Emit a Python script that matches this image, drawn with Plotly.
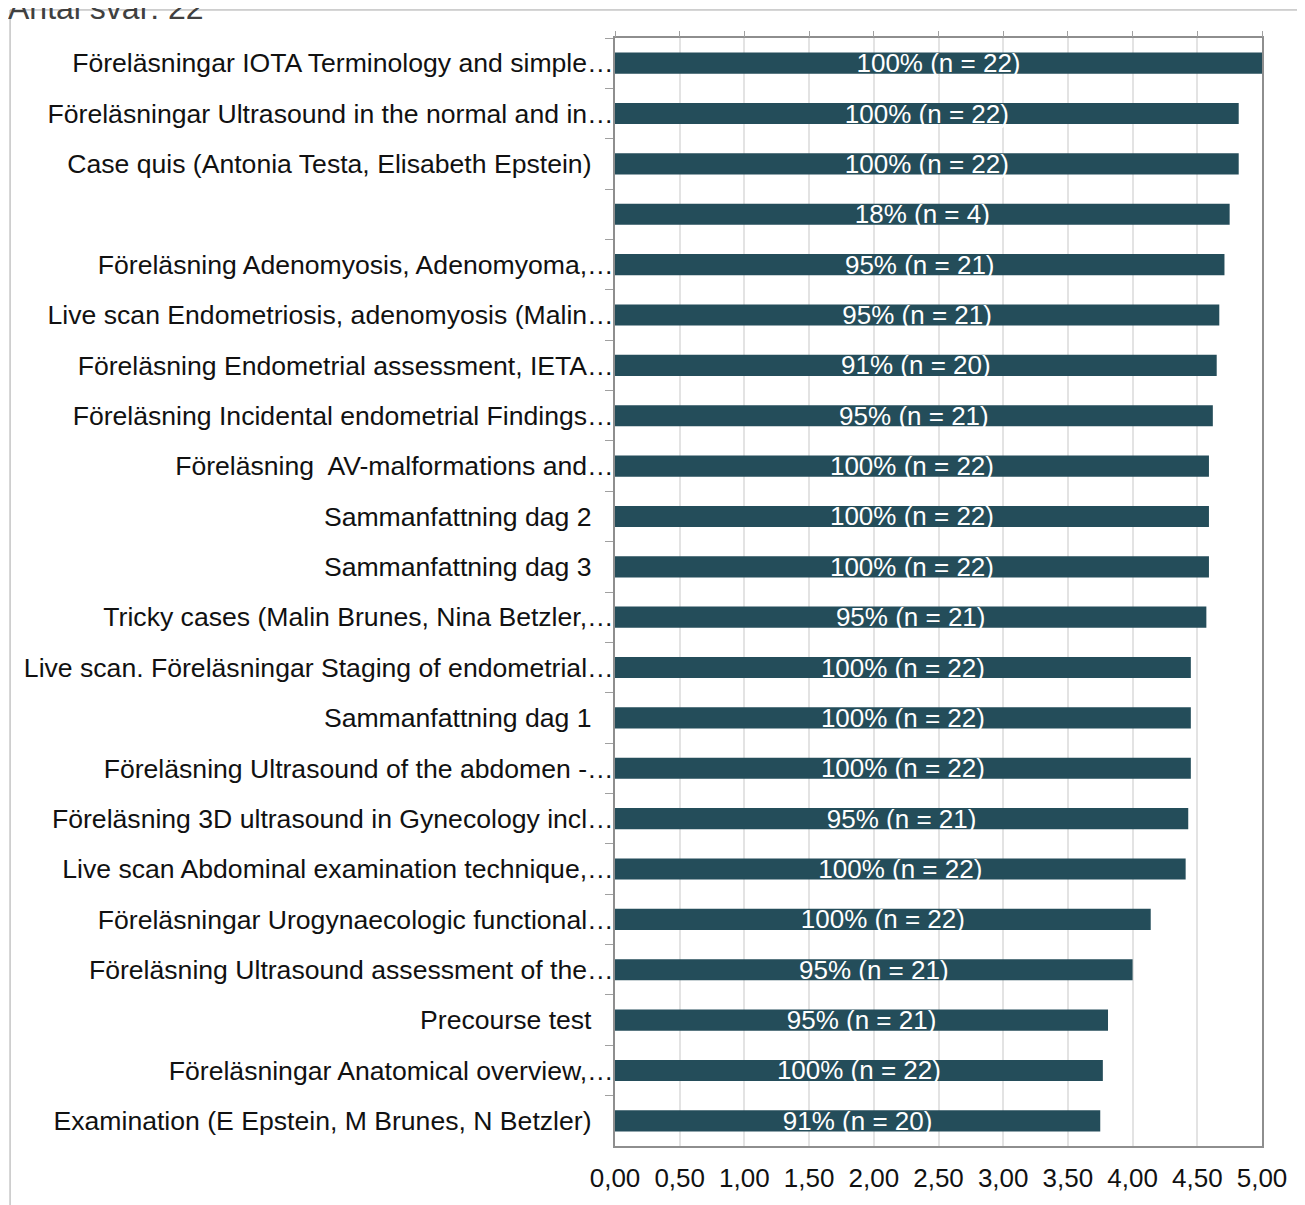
import plotly.graph_objects as go

# -------------------------------------------------
# Data
# -------------------------------------------------
PAD = "\u00a0\u00a0\u00a0"  # labels that were not cut sit a little off the axis

labels = [
    "Föreläsningar IOTA Terminology and simple…",
    "Föreläsningar Ultrasound in the normal and in…",
    "Case quis (Antonia Testa, Elisabeth Epstein)" + PAD,
    " ",
    "Föreläsning Adenomyosis, Adenomyoma,…",
    "Live scan Endometriosis, adenomyosis (Malin…",
    "Föreläsning Endometrial assessment, IETA…",
    "Föreläsning Incidental endometrial Findings…",
    "Föreläsning  AV-malformations and…",
    "Sammanfattning dag 2" + PAD,
    "Sammanfattning dag 3" + PAD,
    "Tricky cases (Malin Brunes, Nina Betzler,…",
    "Live scan. Föreläsningar Staging of endometrial…",
    "Sammanfattning dag 1" + PAD,
    "Föreläsning Ultrasound of the abdomen -…",
    "Föreläsning 3D ultrasound in Gynecology incl…",
    "Live scan Abdominal examination technique,…",
    "Föreläsningar Urogynaecologic functional…",
    "Föreläsning Ultrasound assessment of the…",
    "Precourse test" + PAD,
    "Föreläsningar Anatomical overview,…",
    "Examination (E Epstein, M Brunes, N Betzler)" + PAD,
]
means = [5.00, 4.82, 4.82, 4.75, 4.71, 4.67, 4.65, 4.62, 4.59, 4.59, 4.59,
         4.57, 4.45, 4.45, 4.45, 4.43, 4.41, 4.14, 4.00, 3.81, 3.77, 3.75]
share = ["100%", "100%", "100%", "18%", "95%", "95%", "91%", "95%", "100%",
         "100%", "100%", "95%", "100%", "100%", "100%", "95%", "100%", "100%",
         "95%", "95%", "100%", "91%"]
n_resp = [22, 22, 22, 4, 21, 21, 20, 21, 22, 22, 22, 21, 22, 22, 22, 21, 22,
          22, 21, 21, 22, 20]

bar_text = [f"{s} (n = {n})" for s, n in zip(share, n_resp)]

FONT = "Liberation Sans, Arial, sans-serif"
BAR = "#244d5a"
FRAME = "#8e8e8e"

fig = go.Figure()

# ---- Bars ----
fig.add_trace(
    go.Bar(
        x=means,
        y=labels,
        orientation="h",
        marker=dict(color=BAR, line=dict(width=0)),
        text=bar_text,
        textposition="inside",
        insidetextanchor="middle",
        constraintext="none",
        textfont=dict(family=FONT, size=26, color="white"),
        hoverinfo="x+y",
    )
)

# invisible helper so the top tick axis is drawn
fig.add_trace(
    go.Scatter(x=[0], y=[labels[0]], xaxis="x2", mode="markers",
               marker=dict(opacity=0), hoverinfo="skip", showlegend=False)
)

# ---- Outer frame of the card ----
fig.add_shape(
    type="path",
    xref="paper", yref="paper",
    path="M -0.935,-0.2 L -0.935,1.0253 L 1.1,1.0253",
    line=dict(color="#a6a6a6", width=1),
    layer="below",
)

fig.update_layout(
    width=1297,
    height=1197,
    margin=dict(l=607, r=43, t=30, b=59, autoexpand=False),
    paper_bgcolor="white",
    plot_bgcolor="white",
    separators=", ",
    showlegend=False,
    bargap=0.58,
    font=dict(family=FONT, size=26, color="#111111"),
    title=dict(
        text="Antal svar: 22",
        x=0.0, xanchor="left",
        y=1.0, yanchor="middle",
        yref="container",
        font=dict(family=FONT, size=32, color="#404040"),
    ),
    xaxis=dict(
        range=[0, 5],
        dtick=0.5,
        tickformat=".2f",
        showgrid=True,
        gridcolor="#e3e3e3",
        gridwidth=2,
        zeroline=False,
        showline=True,
        linecolor=FRAME,
        linewidth=2,
        mirror=True,
        ticks="",
        ticklabelstandoff=8,
        automargin=False,
        tickfont=dict(size=26, color="#111111"),
        fixedrange=True,
    ),
    xaxis2=dict(
        overlaying="x",
        matches="x",
        side="top",
        range=[0, 5],
        dtick=0.5,
        showticklabels=False,
        showgrid=False,
        zeroline=False,
        ticks="outside",
        ticklen=6,
        tickcolor="#a0a0a0",
        tickwidth=1,
        automargin=False,
    ),
    yaxis=dict(
        type="category",
        range=[len(labels) - 0.5, -0.5],
        showline=True,
        linecolor=FRAME,
        linewidth=2,
        mirror=True,
        ticks="outside",
        tickson="boundaries",
        ticklen=8,
        tickcolor="#a0a0a0",
        tickwidth=1,
        ticklabelstandoff=-6,
        automargin=False,
        tickfont=dict(size=26.6, color="#111111"),
        showgrid=False,
    ),
)

fig.write_html("out.html")
